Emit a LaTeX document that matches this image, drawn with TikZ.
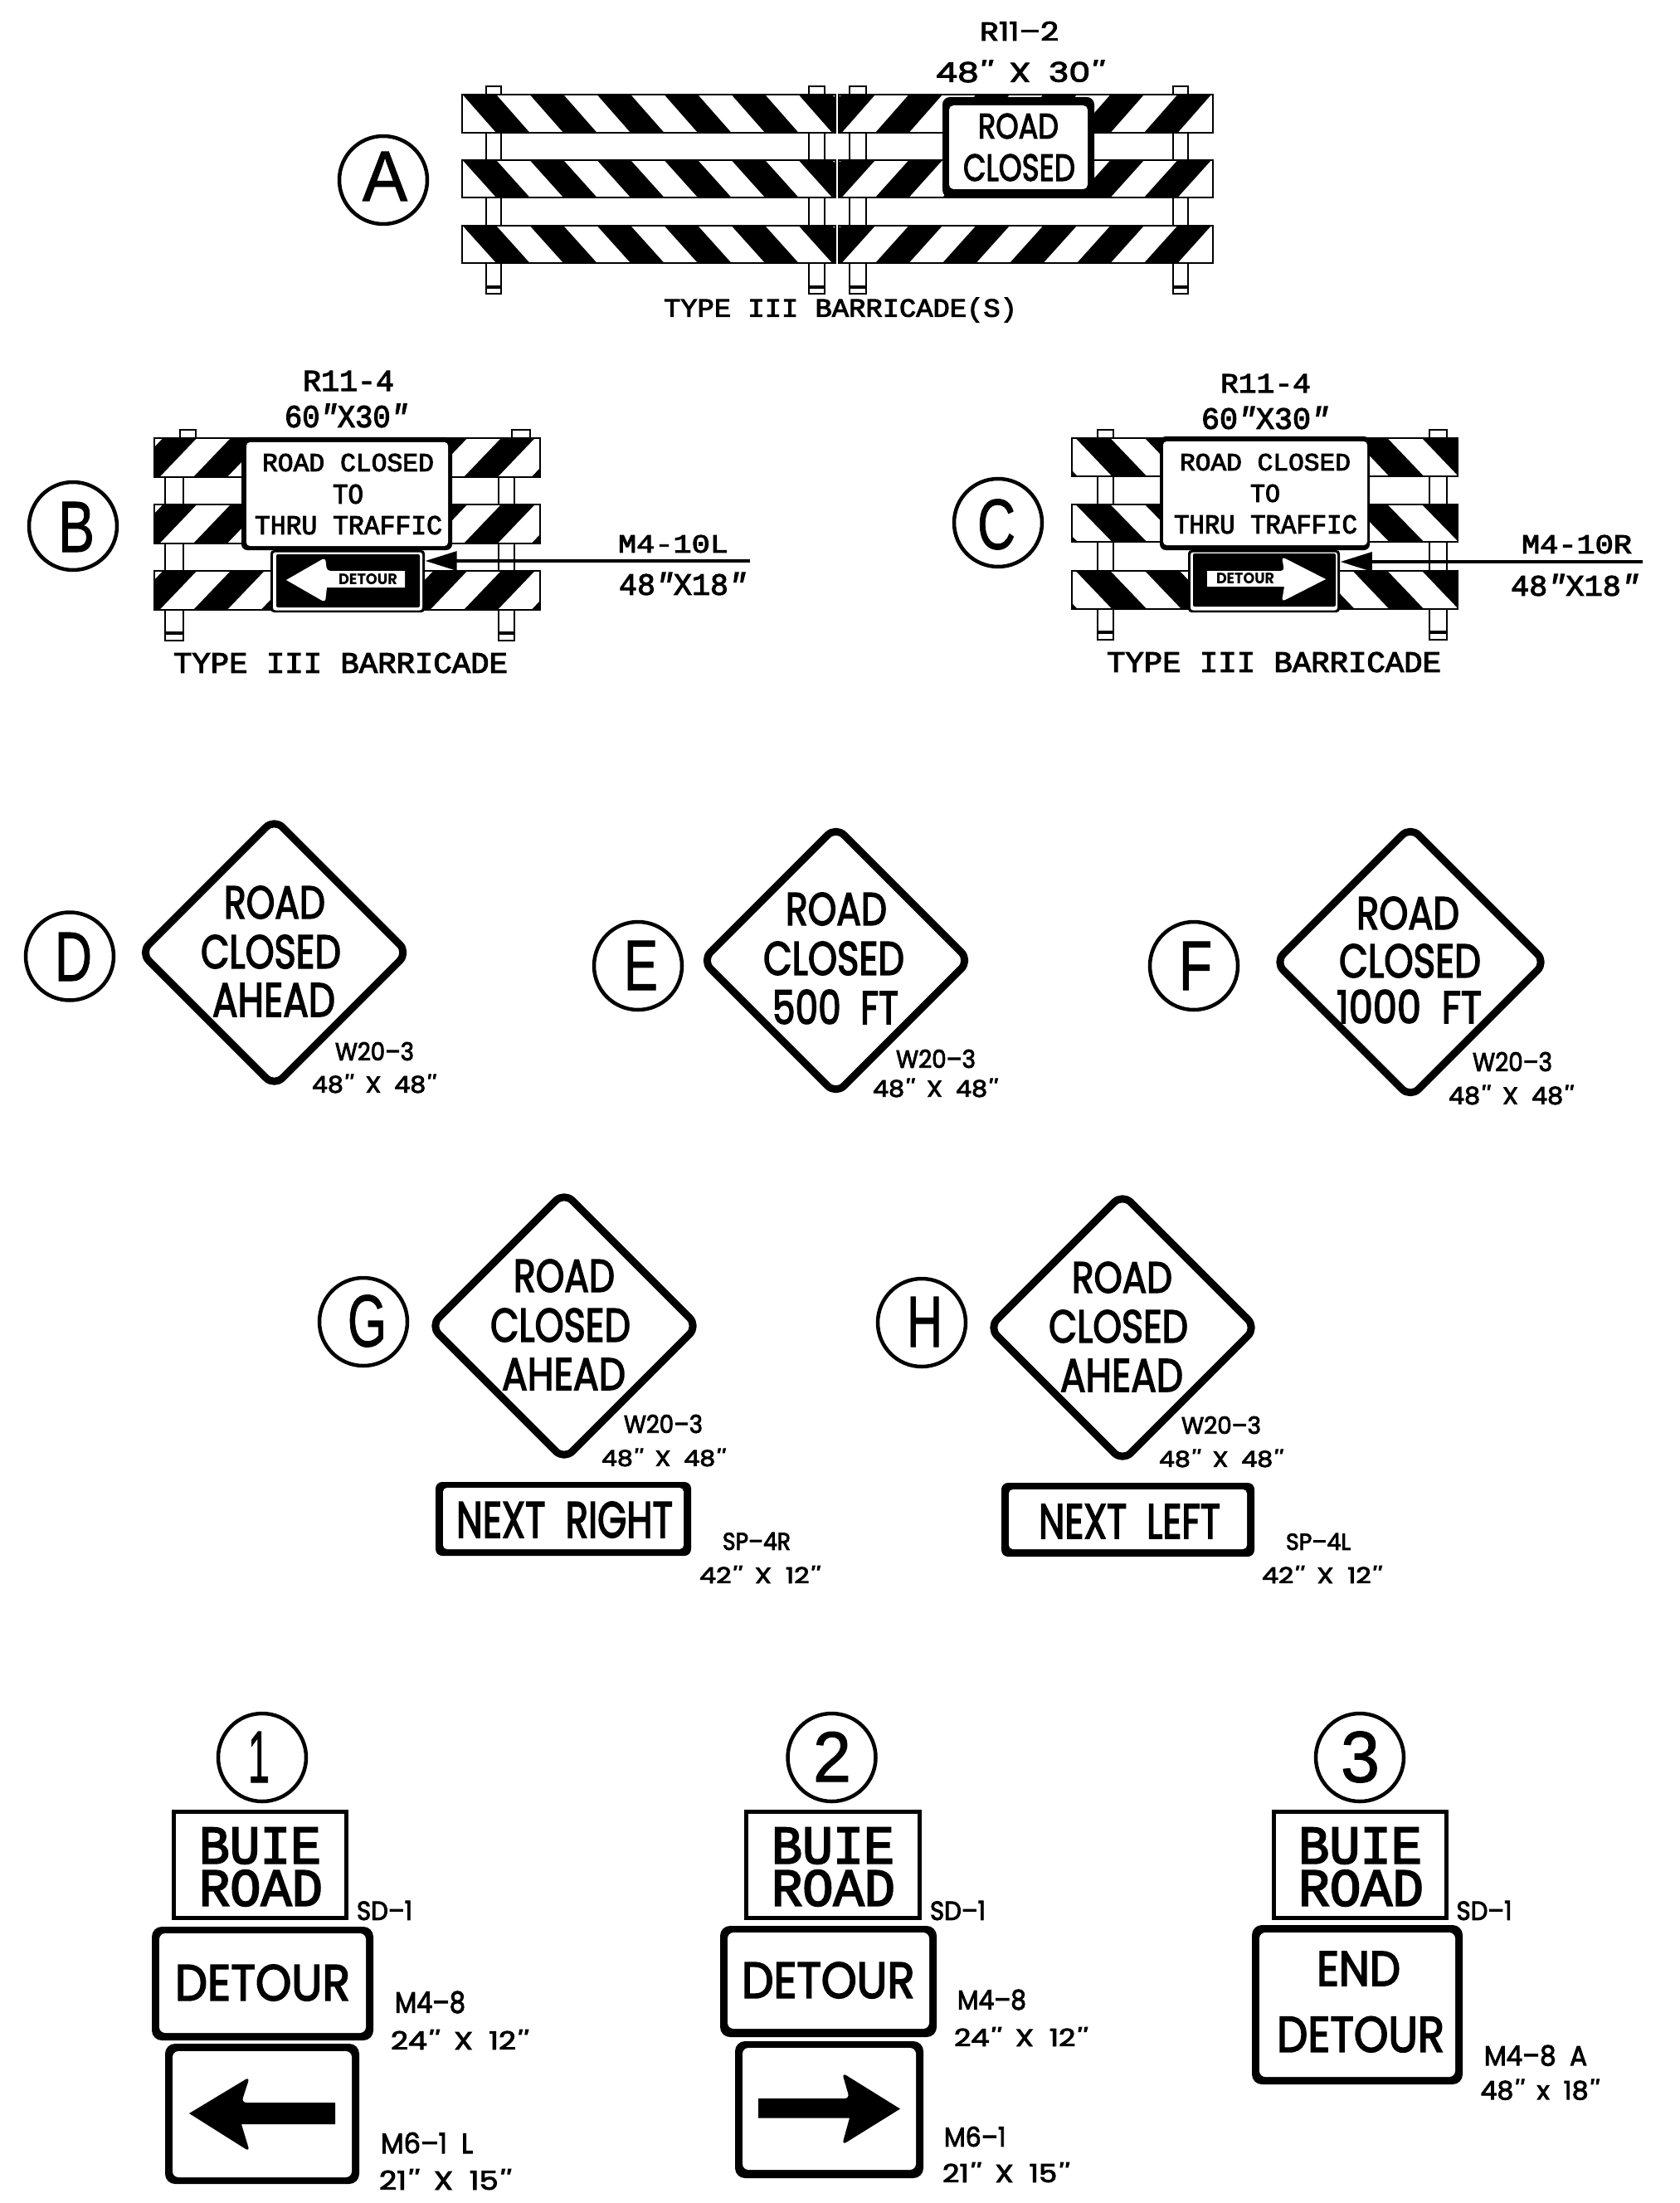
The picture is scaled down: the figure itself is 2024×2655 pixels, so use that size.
\documentclass[tikz,border=0pt]{standalone}
\usepackage{fontspec}
\usepackage{graphicx}
\usetikzlibrary{arrows.meta}
\newfontfamily\popf{Poppins}[FakeBold=3]
\newfontfamily\popg{Poppins}
\newfontfamily\monof{Liberation Mono}[FakeBold=3]
\newfontfamily\sanf{Liberation Sans}[FakeBold=1.2]
\newcommand\popb{\popf}
\newcommand\popx{\popg\bfseries}
\newcommand\monob{\monof}
\newcommand\qq{{\itshape'\kern0.04em'}}
\newcommand\qm{{\itshape\char34\relax}}
\newlength\pxu \setlength\pxu{0.01cm}
\newcounter{nn}
% text fitted to a box given by its corners: x0 y0 x1 y1 font text
\newcommand\lbl[6]{\pgfmathsetmacro\myw{#3-#1}\pgfmathsetmacro\myh{#4-#2}\stepcounter{nn}%
  \node[txt] (t\arabic{nn}) at ({(#1+#3)/2},{(#2+#4)/2}) {#5\resizebox{\myw\pxu}{\myh\pxu}{#6}};}
% sign: outer x0 y0 x1 y1 radius, inner x0 y0 x1 y1 radius
\newcommand\sgn[9]{\sgnb{#1}{#2}{#3}{#4}{#5}{#6}{#7}{#8}{#9}}
\newcommand\sgnb[9]{\fill[black,rounded corners=#5\pxu] (#1,#2) rectangle (#3,#4);
  \fill[white,rounded corners=#5*0.6\pxu] (#6,#7) rectangle (#8,#9);}
% striped panel: x0 y0 x1 y1 phase period shift
\newcommand\panel[7]{\begin{scope}
  \clip (#1,#2) rectangle (#3,#4);
  \fill[white] (#1,#2) rectangle (#3,#4);
  \foreach \k in {-2,...,8} {
    \fill[black] ({#5+\k*#6},#2) -- ({#5+\k*#6+#6/2},#2) -- ({#5+\k*#6+#6/2+#7},#4) -- ({#5+\k*#6+#7},#4) -- cycle;
  }
  \end{scope}
  \draw[thinl] (#1,#2) rectangle (#3,#4);}
\newcommand\post[5]{\draw[thinl,fill=white] (#1,#3) rectangle (#2,#4); \draw[thinl,line width=3.5\pxu] (#1,#5) -- (#2,#5);}
\newcommand\stub[4]{\draw[thinl,fill=white] (#1,#3) rectangle (#2,#4);}
\newcommand\diam[3]{\draw[line width=9\pxu,rounded corners=14\pxu,fill=white,line join=round] (#1,{#2-#3}) -- ({#1+#3},#2) -- (#1,{#2+#3}) -- ({#1-#3},#2) -- cycle;}
\tikzset{
  txt/.style={inner sep=0pt,outer sep=0pt,anchor=center},
  thinl/.style={line width=2.5\pxu,draw=black},
  circ/.style={circle,draw=black,line width=4.5\pxu,minimum size=106\pxu,inner sep=0pt},
  plate/.style={rectangle,fill=black,rounded corners=4\pxu,inner sep=0pt},
  leader/.style={line width=0.03cm,-{Triangle[length=0.38cm,width=0.23cm]}}
}
\begin{document}
\begin{tikzpicture}[x=0.01cm,y=-0.01cm]
\useasboundingbox (0,0) rectangle (2024,2655);
\fill[white] (0,0) rectangle (2024,2655);

%% ---------- A
\node[circ] (cA) at (462,217) {};
\lbl{437}{183}{491}{242}{\sanf}{A}
\post{586}{604}{104}{354}{346}
\post{975}{994}{104}{354}{346}
\post{1024}{1044}{104}{354}{346}
\post{1414}{1432}{104}{354}{346}
\foreach \ya/\yb in {114/160,193/238,272/317}{
  \panel{557}{\ya}{1007}{\yb}{557.6}{81}{40.5}
  \panel{1011}{\ya}{1462}{\yb}{1014.5}{81}{-40.5}
}
\sgn{1136}{117}{1319}{238}{9}{1144}{127}{1311}{228}
\lbl{1179}{137}{1276}{167}{\popb}{ROAD}
\lbl{1161}{186}{1296}{218}{\popb}{CLOSED}
\lbl{1181}{26}{1276}{49}{\popb}{R11–2}
\lbl{1128}{73}{1329}{99}{\popb}{48\qq\ \ X\ \ 30\qq}
\lbl{800}{362}{1226}{385}{\monob}{TYPE III BARRICADE(S)}

%% ---------- B
\node[circ] (cB) at (88,634) {};
\lbl{70}{605}{114}{665}{\sanf}{B}
\stub{217}{236}{518}{535}
\stub{617}{639}{518}{535}
\post{199}{221}{570}{772}{763}
\post{601}{620}{570}{772}{763}
\foreach \ya/\yb in {528/575,608/655,688/735}{
  \panel{186}{\ya}{651}{\yb}{278}{81.5}{-45}
}
\sgn{291}{527}{545}{663}{7}{297}{533}{540}{658}
\lbl{316}{547}{523}{568}{\monob}{ROAD CLOSED}
\lbl{401}{584}{438}{607}{\monob}{TO}
\lbl{307}{622}{533}{644}{\monob}{THRU TRAFFIC}
\node[plate,minimum width=186\pxu,minimum height=75\pxu] (m10l) at (419,700.5) {};
\fill[white,rounded corners=3\pxu] (329,665.5) rectangle (509,735.5);
\fill[black,rounded corners=2\pxu] (333,668) rectangle (506,732);
\fill[white] (345,699) [rounded corners=4\pxu] -- (392,672) -- (394,688) [sharp corners] -- (488,688) -- (488,708) -- (394,708) [rounded corners=4\pxu] -- (392,726) [sharp corners] -- cycle;
\lbl{408}{692}{479}{705}{\popx}{DETOUR}
\coordinate (l10l) at (904,676);
\draw[leader] (l10l) -- (l10l -| m10l.east);
\lbl{365}{447}{475}{471}{\monob}{R11-4}
\lbl{343}{487}{492}{515}{\monob}{60\qm{}X30\qm}
\lbl{745}{645}{878}{666}{\monob}{M4-10L}
\lbl{746}{690}{900}{717}{\monob}{48\qm{}X18\qm}
\lbl{209}{787}{612}{811}{\monob}{TYPE III BARRICADE}

%% ---------- C
\node[circ] (cC) at (1203,630) {};
\lbl{1178}{602}{1224}{662}{\sanf}{C}
\post{1323}{1342}{518}{771}{762}
\post{1723}{1744}{518}{771}{762}
\foreach \ya/\yb in {528/574,608/653,688/734}{
  \panel{1292}{\ya}{1757}{\yb}{1380}{83.5}{44}
}
\sgn{1398}{526}{1651}{663}{7}{1402}{532}{1648}{657}
\lbl{1422}{547}{1628}{567}{\monob}{ROAD CLOSED}
\lbl{1507}{584}{1543}{605}{\monob}{TO}
\lbl{1415}{621}{1636}{643}{\monob}{THRU TRAFFIC}
\node[plate,minimum width=183\pxu,minimum height=75\pxu] (m10r) at (1523.5,700.5) {};
\fill[white,rounded corners=3\pxu] (1435,665.5) rectangle (1612,735.5);
\fill[black,rounded corners=2\pxu] (1438,667) rectangle (1610,731);
\fill[white] (1598,698) [rounded corners=4\pxu] -- (1545,671) -- (1548,688) [sharp corners] -- (1455,688) -- (1455,707) -- (1548,707) [rounded corners=4\pxu] -- (1545,725) [sharp corners] -- cycle;
\lbl{1466}{691}{1536}{704}{\popx}{DETOUR}
\coordinate (l10r) at (1980,677);
\draw[leader] (l10r) -- (l10r -| m10r.east);
\lbl{1471}{451}{1580}{473}{\monob}{R11-4}
\lbl{1448}{490}{1602}{517}{\monob}{60\qm{}X30\qm}
\lbl{1834}{645}{1967}{667}{\monob}{M4-10R}
\lbl{1821}{692}{1976}{718}{\monob}{48\qm{}X18\qm}
\lbl{1334}{786}{1737}{810}{\monob}{TYPE III BARRICADE}

%% ---------- D
\node[circ] (cD) at (84,1152.5) {};
\lbl{66}{1124}{111}{1182}{\sanf}{D}
\diam{330.6}{1148}{161}
\lbl{270}{1068}{392}{1107}{\popb}{ROAD}
\lbl{242}{1127}{411}{1167}{\popb}{CLOSED}
\lbl{256}{1185}{404}{1225}{\popb}{AHEAD}
\lbl{404}{1256}{499}{1278}{\popb}{W20–3}
\lbl{376}{1295}{524}{1317}{\popb}{48\qq\ \ X\ \ 48\qq}

%% ---------- E
\node[circ] (cE) at (769,1164) {};
\lbl{752}{1134}{793}{1193}{\sanf}{E}
\diam{1007.5}{1157.5}{161}
\lbl{947}{1076}{1069}{1115}{\popb}{ROAD}
\lbl{920}{1135}{1090}{1175}{\popb}{CLOSED}
\lbl{931}{1193}{1083}{1234}{\popb}{500\ \ FT}
\lbl{1080}{1265}{1176}{1287}{\popb}{W20–3}
\lbl{1052}{1300}{1201}{1322}{\popb}{48\qq\ \ X\ \ 48\qq}

%% ---------- F
\node[circ] (cF) at (1439,1164) {};
\lbl{1421}{1135}{1461}{1193}{\sanf}{F}
\diam{1700}{1159.5}{163}
\lbl{1635}{1081}{1759}{1120}{\popb}{ROAD}
\lbl{1614}{1138}{1785}{1178}{\popb}{CLOSED}
\lbl{1611}{1193}{1786}{1233}{\popb}{1000\ \ FT}
\lbl{1775}{1268}{1871}{1291}{\popb}{W20–3}
\lbl{1746}{1308}{1895}{1331}{\popb}{48\qq\ \ X\ \ 48\qq}

%% ---------- G
\node[circ] (cG) at (438,1593) {};
\lbl{419}{1561}{466}{1623}{\sanf}{G}
\diam{680}{1598}{161}
\lbl{619}{1518}{741}{1557}{\popb}{ROAD}
\lbl{591}{1577}{760}{1617}{\popb}{CLOSED}
\lbl{605}{1637}{754}{1675}{\popb}{AHEAD}
\lbl{752}{1705}{847}{1727}{\popb}{W20–3}
\lbl{725}{1746}{873}{1767}{\popb}{48\qq\ \ X\ \ 48\qq}
\sgn{525}{1786}{833}{1875}{8}{534}{1793}{824}{1867}
\lbl{550}{1810}{811}{1853}{\popb}{NEXT\ \ RIGHT}
\lbl{871}{1847}{953}{1868}{\popb}{SP–4R}
\lbl{843}{1887}{987}{1908}{\popb}{42\qq\ \ X\ \ 12\qq}

%% ---------- H
\node[circ] (cH) at (1111,1594) {};
\lbl{1093}{1563}{1136}{1623}{\sanf}{H}
\diam{1353}{1600}{161}
\lbl{1292}{1521}{1413}{1558}{\popb}{ROAD}
\lbl{1264}{1579}{1432}{1618}{\popb}{CLOSED}
\lbl{1278}{1638}{1426}{1677}{\popb}{AHEAD}
\lbl{1424}{1707}{1520}{1728}{\popb}{W20–3}
\lbl{1397}{1747}{1545}{1768}{\popb}{48\qq\ \ X\ \ 48\qq}
\sgn{1207}{1787}{1512}{1876}{8}{1216}{1795}{1503}{1867}
\lbl{1252}{1813}{1471}{1854}{\popb}{NEXT\ \ LEFT}
\lbl{1550}{1848}{1628}{1868}{\popb}{SP–4L}
\lbl{1521}{1887}{1664}{1908}{\popb}{42\qq\ \ X\ \ 12\qq}

%% ---------- 1
\node[circ] (c1) at (316,2118) {};
\lbl{299}{2087}{325}{2148}{\sanf}{1}
\sgn{207}{2181}{420}{2314}{0}{212}{2186}{415}{2309}
\lbl{240}{2203}{387}{2246}{\monob}{BUIE}
\lbl{240}{2254}{389}{2297}{\monob}{ROAD}
\lbl{430}{2291}{497}{2314}{\popb}{SD–1}
\sgn{183}{2322}{450}{2459}{12}{192}{2330}{441}{2450}
\lbl{211}{2368}{422}{2411}{\popb}{DETOUR}
\lbl{476}{2400}{561}{2426}{\popb}{M4–8}
\lbl{471}{2446}{635}{2470}{\popb}{24\qq\ \ X\ \ 12\qq}
\sgn{199}{2463}{433}{2632}{12}{208}{2472}{424}{2624}
\fill[black] (228,2547) [rounded corners=6\pxu] -- (301,2503) -- (291,2534) [sharp corners] -- (404,2534) -- (404,2560) -- (291,2560) [rounded corners=6\pxu] -- (301,2593) [sharp corners] -- cycle;
\lbl{459}{2570}{570}{2595}{\popb}{M6–1\ \ L}
\lbl{457}{2614}{614}{2639}{\popb}{21\qq\ \ X\ \ 15\qq}

%% ---------- 2
\node[circ] (c2) at (1002.5,2118) {};
\lbl{980}{2087}{1026}{2147}{\sanf}{2}
\sgn{897}{2181}{1111}{2314}{0}{902}{2186}{1106}{2309}
\lbl{930}{2203}{1078}{2246}{\monob}{BUIE}
\lbl{930}{2254}{1079}{2297}{\monob}{ROAD}
\lbl{1121}{2291}{1188}{2314}{\popb}{SD–1}
\sgn{868}{2321}{1129}{2455}{12}{877}{2329}{1120}{2445}
\lbl{894}{2365}{1102.5}{2408}{\popb}{DETOUR}
\lbl{1154}{2398}{1237}{2422}{\popb}{M4–8}
\lbl{1150}{2443}{1309}{2466}{\popb}{24\qq\ \ X\ \ 12\qq}
\sgn{886}{2460}{1113}{2625}{12}{895}{2468}{1104}{2615}
\fill[black] (1085,2541.5) [rounded corners=6\pxu] -- (1015,2498) -- (1024,2529) [sharp corners] -- (914,2529) -- (914,2552.5) -- (1024,2552.5) [rounded corners=6\pxu] -- (1015,2585) [sharp corners] -- cycle;
\lbl{1138}{2563}{1212.5}{2587}{\popb}{M6–1}
\lbl{1136}{2606}{1287}{2630}{\popb}{21\qq\ \ X\ \ 15\qq}

%% ---------- 3
\node[circ] (c3) at (1639,2118) {};
\lbl{1616}{2087}{1663}{2148}{\sanf}{3}
\sgn{1532.5}{2181}{1745.5}{2314}{0}{1537.5}{2186}{1740.5}{2309}
\lbl{1565}{2203}{1714}{2246}{\monob}{BUIE}
\lbl{1565}{2254}{1716}{2297}{\monob}{ROAD}
\lbl{1755.5}{2291}{1822.5}{2314}{\popb}{SD–1}
\sgn{1509}{2320}{1763}{2512}{12}{1518}{2329}{1754}{2503}
\lbl{1587}{2352}{1688}{2393}{\popb}{END}
\lbl{1539}{2430.5}{1741}{2473}{\popb}{DETOUR}
\lbl{1789}{2465}{1913}{2489.5}{\popb}{M4–8\ \ A}
\lbl{1784.5}{2506}{1926}{2530.5}{\popb}{48\qq\ \ x\ \ 18\qq}
\end{tikzpicture}
\end{document}
